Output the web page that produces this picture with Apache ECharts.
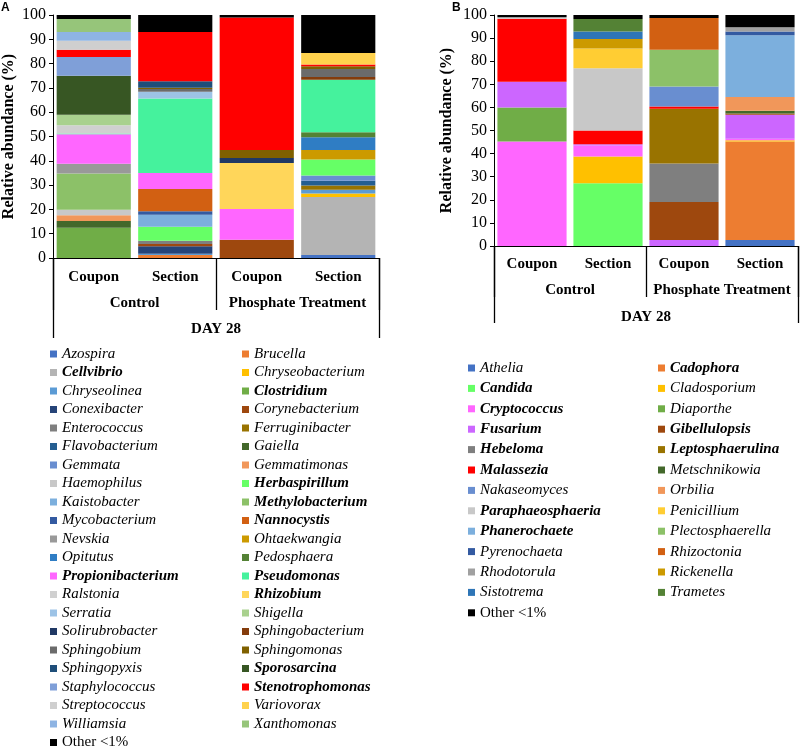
<!DOCTYPE html>
<html><head><meta charset="utf-8">
<script src="https://cdn.jsdelivr.net/npm/echarts@6/dist/echarts.min.js"></script>
<style>html,body{margin:0;padding:0;background:#fff}#c{width:800px;height:749px}</style>
</head><body><div id="c"></div>
<script>
// ---------- DATA ----------
const sampleCats = ['Coupon', 'Section', 'Coupon', 'Section'];
const treatmentGroups = ['Control', 'Phosphate Treatment'];
const dayGroup = ['DAY 28'];
const yTicks = [0, 100, 10]; // min, max, interval

// Panel A: bacteria (stack order = legend order)
const bactGenera = ['Azospira','Brucella','Cellvibrio','Chryseobacterium','Chryseolinea','Clostridium','Conexibacter','Corynebacterium','Enterococcus','Ferruginibacter','Flavobacterium','Gaiella','Gemmata','Gemmatimonas','Haemophilus','Herbaspirillum','Kaistobacter','Methylobacterium','Mycobacterium','Nannocystis','Nevskia','Ohtaekwangia','Opitutus','Pedosphaera','Propionibacterium','Pseudomonas','Ralstonia','Rhizobium','Serratia','Shigella','Solirubrobacter','Sphingobacterium','Sphingobium','Sphingomonas','Sphingopyxis','Sporosarcina','Staphylococcus','Stenotrophomonas','Streptococcus','Variovorax','Williamsia','Xanthomonas','Other <1%'];
const bactBold = ['Cellvibrio','Clostridium','Herbaspirillum','Methylobacterium','Nannocystis','Propionibacterium','Pseudomonas','Rhizobium','Sporosarcina','Stenotrophomonas'];

const bactControlCoupon = [['Clostridium',12.5],['Gaiella',2.7],['Gemmatimonas',2.4],['Haemophilus',2.3],['Methylobacterium',14.9],['Nevskia',4.0],['Propionibacterium',12.1],['Pseudomonas',0.3],['Ralstonia',3.4],['Shigella',4.4],['Sporosarcina',16.0],['Staphylococcus',7.7],['Stenotrophomonas',3.0],['Streptococcus',3.7],['Williamsia',3.6],['Xanthomonas',5.4],['Other <1%',1.6]];
const bactControlSection = [['Brucella',1.2],['Chryseolinea',0.6],['Conexibacter',3.0],['Corynebacterium',1.0],['Enterococcus',1.3],['Herbaspirillum',5.8],['Kaistobacter',4.9],['Mycobacterium',1.4],['Nannocystis',9.2],['Propionibacterium',6.6],['Pseudomonas',30.6],['Serratia',2.8],['Sphingobium',1.1],['Sphingomonas',0.6],['Sphingopyxis',2.6],['Stenotrophomonas',20.3],['Other <1%',7.0]];
const bactPhosCoupon = [['Corynebacterium',7.5],['Propionibacterium',12.7],['Rhizobium',18.9],['Solirubrobacter',2.1],['Sphingomonas',3.2],['Stenotrophomonas',54.6],['Other <1%',1.0]];
const bactPhosSection = [['Azospira',1.2],['Cellvibrio',23.9],['Chryseobacterium',1.4],['Chryseolinea',1.6],['Ferruginibacter',1.7],['Flavobacterium',2.0],['Gemmata',2.1],['Herbaspirillum',6.6],['Ohtaekwangia',3.9],['Opitutus',5.3],['Pedosphaera',2.0],['Pseudomonas',21.7],['Sphingobacterium',1.1],['Sphingobium',3.3],['Sphingomonas',1.1],['Stenotrophomonas',0.7],['Variovorax',4.8],['Other <1%',15.6]];

// Panel B: fungi
const fungiGenera = ['Athelia','Cadophora','Candida','Cladosporium','Cryptococcus','Diaporthe','Fusarium','Gibellulopsis','Hebeloma','Leptosphaerulina','Malassezia','Metschnikowia','Nakaseomyces','Orbilia','Paraphaeosphaeria','Penicillium','Phanerochaete','Plectosphaerella','Pyrenochaeta','Rhizoctonia','Rhodotorula','Rickenella','Sistotrema','Trametes','Other <1%'];
const fungiBold = ['Cadophora','Candida','Cryptococcus','Fusarium','Gibellulopsis','Hebeloma','Leptosphaerulina','Malassezia','Paraphaeosphaeria','Phanerochaete'];

const fungiControlCoupon = [['Cryptococcus',45.2],['Diaporthe',14.8],['Fusarium',11.1],['Malassezia',27.3],['Paraphaeosphaeria',0.6],['Other <1%',1.0]];
const fungiControlSection = [['Candida',27.2],['Cladosporium',11.5],['Cryptococcus',4.8],['Fusarium',0.6],['Malassezia',5.9],['Paraphaeosphaeria',27.0],['Penicillium',8.5],['Rickenella',4.1],['Sistotrema',3.3],['Trametes',5.4],['Other <1%',1.7]];
const fungiPhosCoupon = [['Fusarium',2.6],['Gibellulopsis',16.5],['Hebeloma',16.6],['Leptosphaerulina',23.7],['Malassezia',1.0],['Nakaseomyces',8.7],['Plectosphaerella',15.9],['Rhizoctonia',13.7],['Other <1%',1.3]];
const fungiPhosSection = [['Athelia',2.6],['Cadophora',42.6],['Cladosporium',0.6],['Cryptococcus',0.6],['Fusarium',10.4],['Gibellulopsis',0.6],['Metschnikowia',1.1],['Orbilia',6.0],['Phanerochaete',26.7],['Pyrenochaeta',1.7],['Rhodotorula',1.8],['Other <1%',5.3]];

// ---------- STYLE ----------
const bactColors = ['#4472C4','#ED7D31','#B4B4B4','#FFC000','#5B9BD5','#70AD47','#264478','#9E480E','#7F7F7F','#997300','#255E91','#43682B','#698ED0','#F1975A','#C8C8C8','#66FF66','#7CAFDD','#8CC168','#335AA1','#D26012','#999999','#CC9A00','#2F7DC4','#548235','#FF66FF','#45F29D','#D0D0D0','#FFD65A','#9DC3E6','#A9D18E','#203864','#843C0C','#6B6B6B','#7F6000','#1F4E79','#375623','#7F9FD8','#FF0000','#CFCFCF','#FFD24D','#8EB4E3','#96C57A','#000000'];
const fungiColors = ['#4472C4','#ED7D31','#66FF66','#FFC000','#FF66FF','#70AD47','#CC66FF','#9E480E','#7F7F7F','#997300','#FF0000','#43682B','#698ED0','#F1975A','#C8C8C8','#FFCD33','#7CAFDD','#8CC168','#335AA1','#D26012','#A0A0A0','#CC9A00','#2E75B6','#548235','#000000'];

const F = 'Liberation Serif';
const bactSamples = [bactControlCoupon, bactControlSection, bactPhosCoupon, bactPhosSection];
const fungiSamples = [fungiControlCoupon, fungiControlSection, fungiPhosCoupon, fungiPhosSection];

function lookup(sample, name) {
  const e = sample.find(p => p[0] === name);
  return e ? e[1] : 0;
}

function buildSeries(genera, colors, samples, idx, stack) {
  return genera.map((g, i) => ({
    name: g, type: 'bar', stack: stack,
    xAxisIndex: idx * 3, yAxisIndex: idx,
    barCategoryGap: '9%',
    itemStyle: { color: colors[i] },
    emphasis: { disabled: true },
    data: samples.map(s => lookup(s, g))
  }));
}

function xAxesFor(gi, midLen, outLen, m1, m2, m3) {
  const lab = { color: '#000', fontFamily: F, fontWeight: 'bold', fontSize: 15, interval: 0 };
  return [
    { type: 'category', gridIndex: gi, data: sampleCats,
      axisLine: { show: true, lineStyle: { color: '#000', width: 1 } },
      axisTick: { show: false }, axisLabel: Object.assign({ margin: m1 }, lab) },
    { type: 'category', gridIndex: gi, position: 'bottom', data: treatmentGroups,
      axisLine: { show: false },
      axisTick: { show: true, length: midLen, lineStyle: { color: '#000', width: 1.3 } },
      axisLabel: Object.assign({ margin: m2 }, lab) },
    { type: 'category', gridIndex: gi, position: 'bottom', data: dayGroup,
      axisLine: { show: false },
      axisTick: { show: true, length: outLen, lineStyle: { color: '#000', width: 1.3 } },
      axisLabel: Object.assign({ margin: m3 }, lab) }
  ];
}

function yAxisFor(gi, gap) {
  return {
    type: 'value', gridIndex: gi, min: yTicks[0], max: yTicks[1], interval: yTicks[2],
    name: 'Relative abundance (%)', nameLocation: 'middle', nameGap: gap, nameRotate: 90,
    nameTextStyle: { color: '#000', fontFamily: F, fontWeight: 'bold', fontSize: 16 },
    axisLine: { show: true, lineStyle: { color: '#000', width: 1 } },
    axisTick: { show: true, length: 4, inside: false, lineStyle: { color: '#000' } },
    axisLabel: { color: '#000', fontFamily: F, fontSize: 16, margin: 7 },
    splitLine: { show: false }
  };
}

function legendItems(names, bold) {
  return names.map(n => ({
    name: n,
    textStyle: { fontWeight: bold.includes(n) ? 'bold' : 'normal',
                 fontStyle: n === 'Other <1%' ? 'normal' : 'italic' }
  }));
}

function legendFor(names, bold, col, left, top, gap) {
  return {
    orient: 'vertical', left: left, top: top, height: 440, padding: 0,
    itemWidth: 7, itemHeight: 7, itemGap: gap, icon: 'rect',
    selectedMode: false,
    textStyle: { color: '#000', fontFamily: F, fontSize: 15, lineHeight: 16, fontStyle: 'italic' },
    data: legendItems(names.filter((_, i) => i % 2 === col), bold)
  };
}

const chart = echarts.init(document.getElementById('c'), null, { renderer: 'canvas' });
chart.setOption({
  animation: false,
  backgroundColor: '#fff',
  grid: [
    { left: 53, top: 15, width: 326, height: 243 },
    { left: 494, top: 15, width: 304, height: 231 }
  ],
  xAxis: [].concat(xAxesFor(0, 52, 80, 12, 38, 64), xAxesFor(1, 51, 77, 11, 37, 64)),
  yAxis: [yAxisFor(0, 36), yAxisFor(1, 39)],
  legend: [
    legendFor(bactGenera, bactBold, 0, 50, 346, 2.5),
    legendFor(bactGenera, bactBold, 1, 242, 346, 2.5),
    legendFor(fungiGenera, fungiBold, 0, 468, 360, 4.4),
    legendFor(fungiGenera, fungiBold, 1, 658, 360, 4.4)
  ],
  graphic: [
    { type: 'text', left: 1, top: 2, style: { text: 'A', font: 'bold 12px "Liberation Sans"', fill: '#000' } },
    { type: 'text', left: 452, top: 2, style: { text: 'B', font: 'bold 12px "Liberation Sans"', fill: '#000' } }
  ],
  series: [].concat(
    buildSeries(bactGenera, bactColors, bactSamples, 0, 'A'),
    buildSeries(fungiGenera, fungiColors, fungiSamples, 1, 'B')
  )
});
</script></body></html>
